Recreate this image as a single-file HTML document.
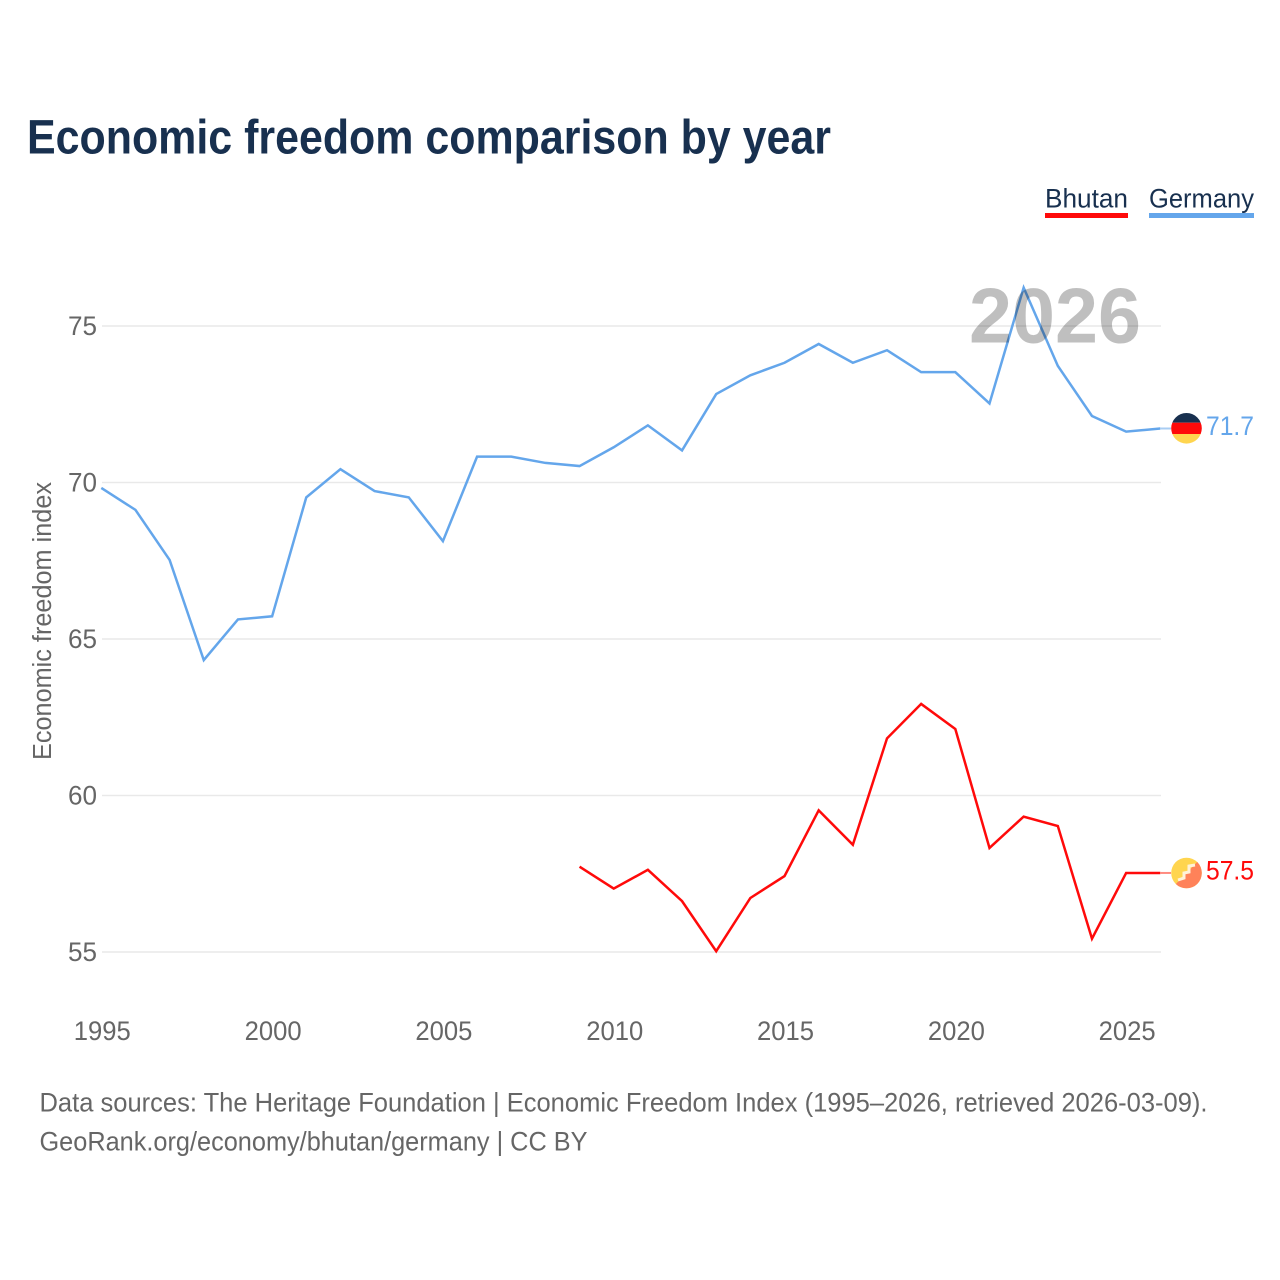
<!DOCTYPE html>
<html lang="en">
<head>
<meta charset="utf-8">
<title>Economic freedom comparison by year</title>
<style>
html,body{margin:0;padding:0;background:#fff;width:1280px;height:1280px;overflow:hidden}
svg{display:block}
text{font-family:"Liberation Sans",sans-serif}
</style>
</head>
<body>
<svg id="chart" width="1280" height="1280" viewBox="0 0 1280 1280" xmlns="http://www.w3.org/2000/svg">
  <rect width="1280" height="1280" fill="#fff"/>
  <text x="27" y="153.500" font-size="48" font-weight="700" fill="#18304f" textLength="804" lengthAdjust="spacingAndGlyphs">Economic freedom comparison by year</text>

  <g>
    <g>
      <text x="1045" y="207.500" font-size="27" fill="#18304f" textLength="83" lengthAdjust="spacingAndGlyphs">Bhutan</text>
      <rect x="1045" y="213" width="83" height="5" fill="#ff0a0a"/>
    </g>
    <g>
      <text x="1149" y="207.500" font-size="27" fill="#18304f" textLength="105" lengthAdjust="spacingAndGlyphs">Germany</text>
      <rect x="1149" y="213" width="105" height="5" fill="#64a6eb"/>
    </g>
  </g>

  <g id="grid"></g>
  <g id="yticks"></g>
  <g id="xticks"></g>
  <text transform="translate(51,621) rotate(-90)" text-anchor="middle" font-size="25.500" fill="#666" textLength="278" lengthAdjust="spacingAndGlyphs">Economic freedom index</text>

  <g id="series"></g>

  <text x="1055" y="342.500" text-anchor="middle" font-size="78" font-weight="700" fill="#000" fill-opacity="0.25" textLength="172" lengthAdjust="spacingAndGlyphs">2026</text>

  <g id="endcaps"></g>

  <defs>
    <clipPath id="flag-clip-de"><circle cx="1186.500" cy="428.300" r="15.300"/></clipPath>
    <clipPath id="flag-clip-bt"><circle cx="1186.500" cy="873" r="15.300"/></clipPath>
  </defs>
  <g id="flag-germany" clip-path="url(#flag-clip-de)">
    <rect x="1171" y="412" width="31" height="10.700" fill="#18304f"/>
    <rect x="1171" y="422.700" width="31" height="11.300" fill="#ff0a0a"/>
    <rect x="1171" y="434" width="31" height="11" fill="#ffd54f"/>
  </g>
  <g id="flag-bhutan" clip-path="url(#flag-clip-bt)">
    <rect x="1171" y="857" width="31" height="32" fill="#ffd54f"/>
    <polygon points="1202,857 1202,889 1171,889" fill="#ff8259"/>
    <polyline points="1178,880 1184,878 1184,873 1189,872 1189,866 1195,865" fill="none" stroke="#fff2d8" stroke-width="3"/>
  </g>

  <text x="39.500" y="1111.500" font-size="26.500" fill="#666" textLength="1168" lengthAdjust="spacingAndGlyphs">Data sources: The Heritage Foundation | Economic Freedom Index (1995–2026, retrieved 2026-03-09).</text>
  <text x="39.500" y="1150.500" font-size="26.500" fill="#666" textLength="548" lengthAdjust="spacingAndGlyphs">GeoRank.org/economy/bhutan/germany | CC BY</text>
</svg>
<script>
const years = [1995,1996,1997,1998,1999,2000,2001,2002,2003,2004,2005,2006,2007,2008,2009,2010,2011,2012,2013,2014,2015,2016,2017,2018,2019,2020,2021,2022,2023,2024,2025,2026];
const germanyValues = [69.8,69.1,67.5,64.3,65.6,65.7,69.5,70.4,69.7,69.5,68.1,70.8,70.8,70.6,70.5,71.1,71.8,71.0,72.8,73.4,73.8,74.4,73.8,74.2,73.5,73.5,72.5,76.2,73.7,72.1,71.6,71.7];
const bhutanValues = [null,null,null,null,null,null,null,null,null,null,null,null,null,null,57.7,57.0,57.6,56.6,55.0,56.7,57.4,59.5,58.4,61.8,62.9,62.1,58.3,59.3,59.0,55.4,57.5,57.5];
const yTickValues = [55,60,65,70,75];
const xTickValues = [1995,2000,2005,2010,2015,2020,2025];

const NS = 'http://www.w3.org/2000/svg';
const xScale = (yr) => 102 + (yr - 1995) * (1161 - 102) / (2026 - 1995);
const yScale = (v) => 952 - (v - 55) * (952 - 326) / (75 - 55);
const lineX = (yr) => xScale(yr) - 0.7;
const lineY = (v) => yScale(v) - 0.8;

const grid = document.getElementById('grid');
const yticks = document.getElementById('yticks');
const xticks = document.getElementById('xticks');
const series = document.getElementById('series');
const endcaps = document.getElementById('endcaps');

function make(tag, attrs, text) {
  const el = document.createElementNS(NS, tag);
  for (const k in attrs) el.setAttribute(k, attrs[k]);
  if (text !== undefined) el.textContent = text;
  return el;
}

yTickValues.forEach((v) => {
  const line = make('line', {x1: 102, x2: 1161, y1: yScale(v), y2: yScale(v), stroke: '#e9e9e9', 'stroke-width': 1.5});
  
  
  grid.appendChild(line);
  const label = make('text', {x: 97, y: yScale(v) + 9, 'text-anchor': 'end', 'font-size': 27, fill: '#666', textLength: 29, lengthAdjust: 'spacingAndGlyphs'}, String(v));
  
  
  yticks.appendChild(label);
});

xTickValues.forEach((yr) => {
  const label = make('text', {x: xScale(yr) + 0.3, y: 1040, 'text-anchor': 'middle', 'font-size': 27, fill: '#666', textLength: 57, lengthAdjust: 'spacingAndGlyphs'}, String(yr));
  
  
  xticks.appendChild(label);
});

function drawLine(values, color, name) {
  const pts = [];
  values.forEach((v, i) => {
    if (v !== null) pts.push(lineX(years[i]).toFixed(2) + ',' + lineY(v).toFixed(2));
  });
  const line = make('polyline', {points: pts.join(' '), fill: 'none', stroke: color, 'stroke-width': 2.5, 'stroke-linejoin': 'miter'});
  
  
  series.appendChild(line);
}
drawLine(germanyValues, '#64a6eb', 'germany-line');
drawLine(bhutanValues, '#ff0a0a', 'bhutan-line');

function drawEnd(values, color, name, stubColor) {
  const v = values[values.length - 1];
  const y = lineY(v);
  const stub = make('line', {x1: 1160, x2: 1171, y1: y, y2: y, stroke: stubColor, 'stroke-width': 2});
  
  
  endcaps.appendChild(stub);
  const label = make('text', {x: 1254, y: y + 6.300, 'text-anchor': 'end', 'font-size': 26.500, fill: color, textLength: 48, lengthAdjust: 'spacingAndGlyphs'}, v.toFixed(1));
  
  
  endcaps.appendChild(label);
}
drawEnd(germanyValues, '#64a6eb', 'germany', '#a9cdf3');
drawEnd(bhutanValues, '#ff0a0a', 'bhutan', '#ff8a80');
</script>
</body>
</html>
